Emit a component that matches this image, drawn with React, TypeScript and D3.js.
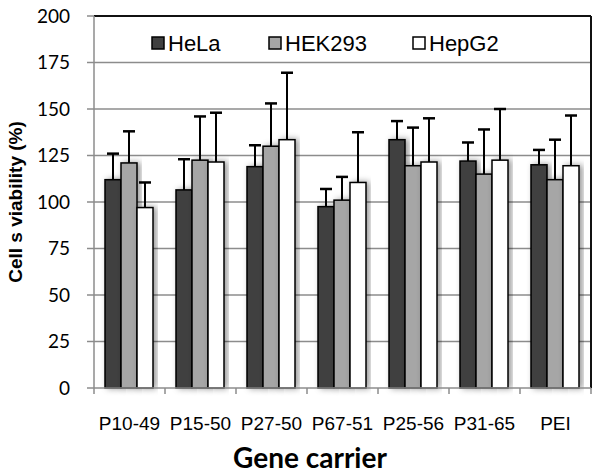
import React from 'react';
import * as d3 from 'd3';

const categories = ['P10-49', 'P15-50', 'P27-50', 'P67-51', 'P25-56', 'P31-65', 'PEI'];
const seriesNames = ['HeLa', 'HEK293', 'HepG2'];
const seriesColors = ['#404040', '#a6a6a6', '#ffffff'];

// mean viability (%) per category
const helaValues = [112, 106.5, 119, 97.5, 133.5, 122, 120];
const hekValues = [121, 122.5, 130, 101, 119.5, 115, 112];
const hepg2Values = [97, 121.5, 133.5, 110.5, 121.5, 122.5, 119.5];

// top of the error bar (mean + sd)
const helaErrors = [126, 123, 130.5, 107, 143.5, 132, 128];
const hekErrors = [138, 146, 153, 113.5, 140, 139, 133.5];
const hepg2Errors = [110.5, 148, 169.5, 137.5, 145, 150, 146.5];

const yTicks = [0, 25, 50, 75, 100, 125, 150, 175, 200];

const W = 600;
const H = 475;
const margin = { top: 16, right: 9, bottom: 87, left: 94 };

const App = () => {
  const innerW = W - margin.left - margin.right;
  const innerH = H - margin.top - margin.bottom;

  const values = [helaValues, hekValues, hepg2Values];
  const errors = [helaErrors, hekErrors, hepg2Errors];

  const x = d3.scaleBand().domain(categories).range([0, innerW]);
  const xs = d3.scaleBand()
    .domain(seriesNames)
    .range([11, x.bandwidth() - 12]);
  const y = d3.scaleLinear().domain([0, 200]).range([innerH, 0]);

  const bw = xs.bandwidth();
  const boundaries = d3.range(categories.length + 1).map(i => i * x.step());

  // legend: swatch x positions inside the plot
  const legendX = [58, 175, 319];

  return (
    <svg width={W} height={H} style={{ position: 'absolute', left: 0, top: 0, background: '#fff' }}>
      <defs>
        <filter id="shadow" x="-30%" y="-10%" width="160%" height="120%">
          <feDropShadow dx="3" dy="0" stdDeviation="3" floodColor="#000" floodOpacity="0.4" />
        </filter>
      </defs>
      <g transform={`translate(${margin.left},${margin.top})`}>
        {/* gridlines */}
        {yTicks.filter(t => t > 0 && t < 200).map(t => (
          <line key={t} x1={0} x2={innerW} y1={y(t)} y2={y(t)} stroke="#8c8c8c" strokeWidth={1.5} />
        ))}
        {/* y ticks and labels */}
        {yTicks.map(t => (
          <g key={'yt' + t}>
            <line x1={-7} x2={0} y1={y(t)} y2={y(t)} stroke="#8c8c8c" strokeWidth={1.5} />
            <text x={-24} y={y(t)} dy="0.35em" textAnchor="end"
              style={{ font: '19px Lato, sans-serif', fill: '#000' }}>{t}</text>
          </g>
        ))}
        {/* border */}
        <line x1={0} x2={innerW} y1={0} y2={0} stroke="#111" strokeWidth={2} />
        <line x1={innerW} x2={innerW} y1={0} y2={innerH} stroke="#111" strokeWidth={2} />
        <line x1={0} x2={0} y1={0} y2={innerH} stroke="#8c8c8c" strokeWidth={1.5} />

        {/* bars */}
        {categories.map((c, ci) => (
          <g key={c} transform={`translate(${x(c)},0)`}>
            {seriesNames.map((s, si) => {
              const v = values[si][ci];
              const e = errors[si][ci];
              const bx = xs(s) as number;
              const cx = bx + bw / 2;
              return (
                <g key={s}>
                  <line x1={cx} x2={cx} y1={y(v)} y2={y(e)} stroke="#000" strokeWidth={2} />
                  <line x1={cx - 6} x2={cx + 6} y1={y(e)} y2={y(e)} stroke="#000" strokeWidth={2.5} />
                  <rect x={bx} y={y(v)} width={bw} height={innerH - y(v)}
                    fill={seriesColors[si]} stroke="#000" strokeWidth={1.5} filter="url(#shadow)" />
                </g>
              );
            })}
          </g>
        ))}

        {/* x axis */}
        <line x1={0} x2={innerW} y1={innerH} y2={innerH} stroke="#8c8c8c" strokeWidth={1.5} />
        {boundaries.map((b, i) => (
          <line key={'xt' + i} x1={b} x2={b} y1={innerH} y2={innerH + 6} stroke="#8c8c8c" strokeWidth={1.5} />
        ))}
        {categories.map(c => (
          <text key={'xl' + c} x={(x(c) as number) + x.bandwidth() / 2} y={innerH + 42} textAnchor="middle"
            style={{ font: '19px "Liberation Sans", Arial, sans-serif', fill: '#000' }}>{c}</text>
        ))}

        {/* legend */}
        {seriesNames.map((s, si) => (
          <g key={'lg' + s} transform={`translate(${legendX[si]},27)`}>
            <rect x={0} y={-6} width={12} height={12} fill={seriesColors[si]} stroke="#000" strokeWidth={1.5} />
            <text x={16} y={0} dy="0.36em"
              style={{ font: '22px "Liberation Sans", Arial, sans-serif', fill: '#000' }}>{s}</text>
          </g>
        ))}
      </g>

      {/* axis titles */}
      <text transform={`translate(22,202) rotate(-90)`} textAnchor="middle"
        style={{ font: 'bold 19px "Liberation Sans", Arial, sans-serif', fill: '#000' }}>Cell s viability (%)</text>
      <text x={310} y={468} textAnchor="middle"
        style={{ font: 'bold 28px Lato, sans-serif', fill: '#000' }}>Gene carrier</text>
    </svg>
  );
};

export default App;
